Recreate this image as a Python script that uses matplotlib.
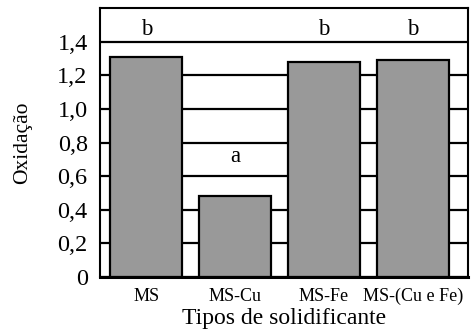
import matplotlib.pyplot as plt
from matplotlib.ticker import FuncFormatter

categories = ['MS', 'MS-Cu', 'MS-Fe', 'MS-(Cu e Fe)']
oxidation = [1.31, 0.48, 1.28, 1.29]
letters = ['b', 'a', 'b', 'b']
letter_y = [1.41, 0.655, 1.41, 1.41]
yticks = [0, 0.2, 0.4, 0.6, 0.8, 1.0, 1.2, 1.4]

plt.rcParams['font.family'] = ['Liberation Serif', 'DejaVu Serif']

fig, ax = plt.subplots(figsize=(4.75, 3.33), dpi=100)
fig.subplots_adjust(left=0.211, right=0.985, top=0.976, bottom=0.168)

x = range(len(categories))
ax.set_axisbelow(True)
ax.yaxis.grid(True, color='black', linewidth=1.6)
ax.bar(x, oxidation, width=0.81, color='#999999', edgecolor='black', linewidth=1.6)

for i, (t, yv) in enumerate(zip(letters, letter_y)):
    ax.text(i, yv, t, ha='center', va='bottom', fontsize=16.5)

ax.set_xlim(-0.52, 3.62)
ax.set_ylim(0, 1.6)
ax.set_yticks(yticks)
ax.yaxis.set_major_formatter(FuncFormatter(lambda v, p: '0' if v == 0 else f'{v:.1f}'.replace('.', ',')))
ax.set_xticks(list(x))
ax.set_xticklabels(categories, fontsize=13)
ax.tick_params(axis='y', labelsize=17.5, length=0, pad=9)
ax.tick_params(axis='x', length=0, pad=8)

for s in ax.spines.values():
    s.set_linewidth(1.5)
ax.spines['bottom'].set_linewidth(2.2)

ax.set_ylabel('Oxidação', fontsize=15.5, labelpad=18)
ax.set_xlabel('Tipos de solidificante', fontsize=17, labelpad=2)

plt.savefig('out.png', dpi=100)
